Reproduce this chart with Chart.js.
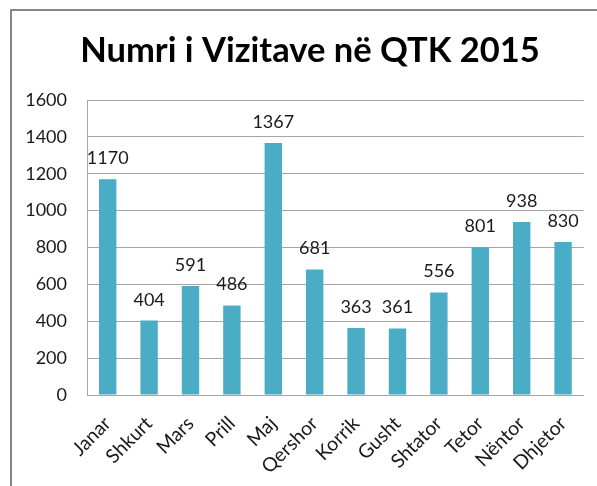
<!DOCTYPE html>
<html><head><meta charset="utf-8">
<script src="https://cdn.jsdelivr.net/npm/chart.js@4/dist/chart.umd.min.js"></script>
<style>html,body{margin:0;padding:0;background:#fff;overflow:hidden}#wrap{position:absolute;left:0;top:0;width:597px;height:486px}</style>
</head><body><div id="wrap"><canvas id="c" width="597" height="486"></canvas></div>
<script>
const titleText = "Numri i Vizitave në QTK 2015";
const categories = ["Janar","Shkurt","Mars","Prill","Maj","Qershor","Korrik","Gusht","Shtator","Tetor","Nëntor","Dhjetor"];
const visits = [1170,404,591,486,1367,681,363,361,556,801,938,830];
const yTicks = [0,200,400,600,800,1000,1200,1400,1600];

const FONT = "Lato, 'Open Sans', sans-serif";
const TXT = "#1a1a1a";

const framePlugin = {
  id: 'frame',
  beforeDraw(chart){
    const ctx = chart.ctx;
    ctx.save();
    ctx.strokeStyle = '#868686';
    ctx.lineWidth = 2;
    ctx.beginPath();
    ctx.moveTo(11, 486);
    ctx.lineTo(11, 10);
    ctx.lineTo(597, 10);
    ctx.stroke();
    ctx.fillStyle = '#000';
    ctx.font = "bold 34.5px " + FONT;
    ctx.textAlign = 'center';
    ctx.textBaseline = 'middle';
    ctx.fillText(titleText, 310, 51);
    ctx.restore();
  }
};
const labelPlugin = {
  id: 'vals',
  afterDatasetsDraw(chart){
    const ctx = chart.ctx;
    const meta = chart.getDatasetMeta(0);
    ctx.save();
    ctx.fillStyle = TXT;
    ctx.font = "18px " + FONT;
    ctx.textAlign = 'center';
    ctx.textBaseline = 'alphabetic';
    meta.data.forEach((bar, i) => {
      ctx.fillText(String(visits[i]), bar.x, bar.y - 15);
    });
    ctx.restore();
  }
};

new Chart(document.getElementById('c'), {
  type: 'bar',
  data: { labels: categories, datasets: [{ data: visits, backgroundColor: '#4BACC6', categoryPercentage: 1, barPercentage: 0.42 }] },
  options: {
    responsive: false, animation: false,
    layout: { padding: { top: 100, right: 9, left: 0, bottom: 0 } },
    plugins: { legend: { display: false }, tooltip: { enabled: false }, title: { display: false } },
    scales: {
      y: {
        min: 0, max: 1600,
        afterBuildTicks(s){ s.ticks = yTicks.map(v => ({value: v})); },
        afterFit(s){ s.width = 87; },
        grid: { color: '#A6A6A6', lineWidth: 1, drawTicks: false },
        border: { color: '#A6A6A6', width: 1 },
        ticks: { color: TXT, font: { size: 18, family: FONT }, padding: 20, callback: v => String(v) }
      },
      x: {
        afterFit(s){ s.height = 91; },
        grid: { display: false, drawTicks: false },
        border: { color: '#A6A6A6', width: 1 },
        ticks: { color: TXT, font: { size: 19.5, family: FONT }, maxRotation: 45, minRotation: 45, padding: 17, autoSkip: false }
      }
    }
  },
  plugins: [framePlugin, labelPlugin]
});
</script></body></html>
